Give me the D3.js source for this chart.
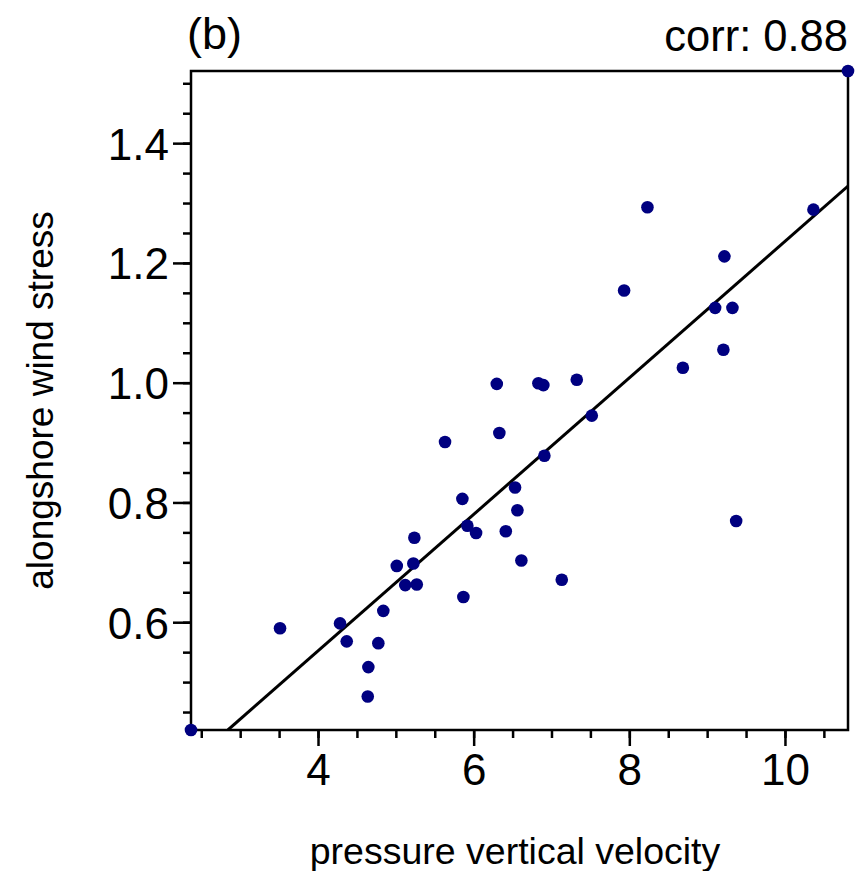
<!DOCTYPE html>
<html>
<head>
<meta charset="utf-8">
<script src="https://cdn.jsdelivr.net/npm/d3@7"></script>
<style>
  html, body { margin: 0; padding: 0; background: #fff; }
  text { font-family: "Liberation Sans", Arial, Helvetica, sans-serif; fill: #000; }
</style>
</head>
<body>
<div id="chart"></div>
<script>
// ---- data ----
const xValues = [2.368, 10.81, 3.512, 4.283, 4.369, 4.775, 4.839, 4.647, 4.639, 5.012,
                 5.238, 5.225, 5.121, 5.269, 5.632, 5.855, 5.868, 5.919, 6.031, 6.297,
                 6.330, 6.413, 6.532, 6.562, 6.613, 6.832, 6.896, 6.909, 7.132, 7.325,
                 7.518, 7.933, 8.233, 8.688, 9.103, 9.209, 9.222, 9.325, 9.373, 10.366];
const yValues = [0.420, 1.5205, 0.590, 0.598, 0.568, 0.565, 0.619, 0.525, 0.476, 0.694,
                 0.741, 0.698, 0.662, 0.663, 0.901, 0.806, 0.642, 0.761, 0.749, 0.998,
                 0.916, 0.752, 0.825, 0.787, 0.703, 0.999, 0.996, 0.878, 0.671, 1.005,
                 0.945, 1.154, 1.293, 1.025, 1.125, 1.055, 1.211, 1.125, 0.769, 1.289];
const xMajorTicks = [4, 6, 8, 10];
const xTickLabels = ["4", "6", "8", "10"];
const yMajorTicks = [0.6, 0.8, 1.0, 1.2, 1.4];
const yTickLabels = ["0.6", "0.8", "1.0", "1.2", "1.4"];
const xMinorTicks = d3.range(2.5, 10.75, 0.5);
const yMinorTicks = d3.range(0.45, 1.52, 0.05).map(v => +v.toFixed(2));
const fitSlope = 0.114;
const fitIntercept = 0.096;
const panelLabel = "(b)";
const corrLabel = "corr: 0.88";
const xTitle = "pressure vertical velocity";
const yTitle = "alongshore wind stress";

// ---- layout ----
const W = 858, H = 871;
const L = 191, R = 848, T = 71, B = 730;

const svg = d3.select("#chart").append("svg")
  .attr("width", W).attr("height", H)
  .style("background", "#fff");

const x = d3.scaleLinear().domain(d3.extent(xValues)).range([L, R]);
const y = d3.scaleLinear().domain(d3.extent(yValues)).range([B, T]);

// clip for regression line
svg.append("clipPath").attr("id", "plotclip")
  .append("rect").attr("x", L).attr("y", T).attr("width", R - L).attr("height", B - T);

// regression line
const [x0, x1] = x.domain();
const xStart = Math.max(x0, (y.domain()[0] - fitIntercept) / fitSlope);
svg.append("line")
  .attr("clip-path", "url(#plotclip)")
  .attr("x1", x(xStart)).attr("y1", y(fitIntercept + fitSlope * xStart))
  .attr("x2", x(x1)).attr("y2", y(fitIntercept + fitSlope * x1))
  .attr("stroke", "#000").attr("stroke-width", 3);

// minor ticks
const xMinorAxis = d3.axisBottom(x).tickValues(xMinorTicks).tickSize(8).tickFormat("");
const gxm = svg.append("g").attr("transform", `translate(0,${B})`).call(xMinorAxis);
const yMinorAxis = d3.axisLeft(y).tickValues(yMinorTicks).tickSize(8).tickFormat("");
const gym = svg.append("g").attr("transform", `translate(${L},0)`).call(yMinorAxis);

// major ticks + labels
const xAxis = d3.axisBottom(x).tickValues(xMajorTicks).tickSize(16).tickPadding(8)
  .tickFormat((d, i) => xTickLabels[i]);
const gx = svg.append("g").attr("transform", `translate(0,${B})`).call(xAxis);
const yAxis = d3.axisLeft(y).tickValues(yMajorTicks).tickSize(18).tickPadding(4)
  .tickFormat((d, i) => yTickLabels[i]);
const gy = svg.append("g").attr("transform", `translate(${L},0)`).call(yAxis);

[gxm, gym, gx, gy].forEach(g => {
  g.select(".domain").remove();
  g.selectAll(".tick line").attr("stroke", "#000").attr("stroke-width", 2.5);
  g.selectAll(".tick text").style("font-family", '"Liberation Sans", Arial, sans-serif')
    .attr("font-size", 44).attr("fill", "#000");
});
gy.selectAll(".tick text").attr("dy", "0.36em");

// frame
svg.append("rect").attr("x", L).attr("y", T).attr("width", R - L).attr("height", B - T)
  .attr("fill", "none").attr("stroke", "#000").attr("stroke-width", 2.5);

// points
svg.append("g").selectAll("circle")
  .data(xValues.map((v, i) => [v, yValues[i]]))
  .join("circle")
  .attr("cx", d => x(d[0])).attr("cy", d => y(d[1]))
  .attr("r", 6.3).attr("fill", "#000080");

// titles
svg.append("text").attr("x", 187).attr("y", 49).attr("font-size", 45).text(panelLabel);
svg.append("text").attr("x", R).attr("y", 51).attr("font-size", 43.5)
  .attr("text-anchor", "end").text(corrLabel);
svg.append("text").attr("x", 515).attr("y", 864).attr("font-size", 37.5)
  .attr("text-anchor", "middle").text(xTitle);
svg.append("text")
  .attr("transform", `translate(53,${(T + B) / 2}) rotate(-90)`)
  .attr("font-size", 37).attr("text-anchor", "middle").text(yTitle);
</script>
</body>
</html>
